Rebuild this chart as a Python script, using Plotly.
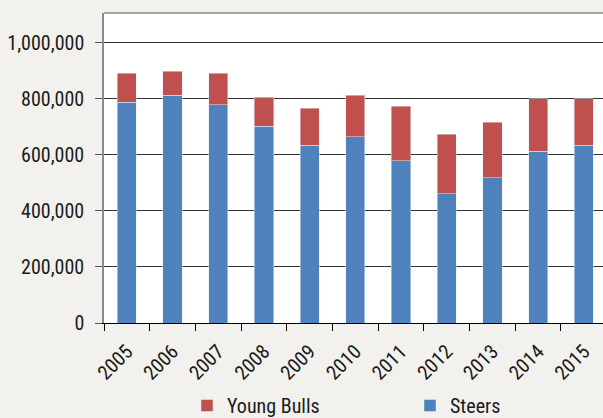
import plotly.graph_objects as go

years = ["2005", "2006", "2007", "2008", "2009", "2010", "2011", "2012", "2013", "2014", "2015"]
steers = [788000, 814000, 779000, 702000, 635000, 666000, 580000, 461000, 518000, 613000, 635000]
young_bulls = [104000, 85000, 113000, 104000, 132000, 147000, 194000, 213000, 199000, 188000, 166000]
y_ticks = [0, 200000, 400000, 600000, 800000, 1000000]
y_tick_labels = ["0", "200,000", "400,000", "600,000", "800,000", "1,000,000"]

FONT = "Liberation Sans Narrow, Arial Narrow, Roboto Condensed, sans-serif"

fig = go.Figure()
fig.add_trace(go.Bar(x=years, y=steers, name="Steers", marker_color="#4F81BD", width=0.42,
                     legend="legend2"))
fig.add_trace(go.Bar(x=years, y=young_bulls, name="Young Bulls", marker_color="#C0504D", width=0.42,
                     legend="legend"))

PW = 499.0
PH = 310.0
leg_common = dict(
    orientation="h", xanchor="left", yanchor="top",
    y=(323 - 386) / PH,
    font=dict(family=FONT, size=20, color="#1a1a1a"),
    bgcolor="rgba(0,0,0,0)",
)

fig.update_layout(
    width=603, height=418,
    margin=dict(l=104, r=0, t=13, b=95, autoexpand=False),
    barmode="stack",
    paper_bgcolor="#f2f1ed",
    plot_bgcolor="#ffffff",
    font=dict(family=FONT, size=20, color="#1a1a1a"),
    showlegend=True,
    legend=dict(x=(187 - 104) / PW, **leg_common),
    legend2=dict(x=(410 - 104) / PW, **leg_common),
    xaxis=dict(
        type="category",
        range=[-0.5, 10.42],
        tickangle=-45,
        tickson="boundaries",
        ticks="outside", ticklen=7, tickcolor="#000000",
        ticklabelstandoff=8,
        showline=True, linecolor="#000000", linewidth=1,
        showgrid=False,
        automargin=False,
    ),
    yaxis=dict(
        range=[0, 1107000],
        tickvals=y_ticks, ticktext=y_tick_labels,
        ticks="outside", ticklen=7, tickcolor="#555555",
        ticklabelstandoff=7,
        showgrid=True, gridcolor="#333333", gridwidth=1,
        zeroline=False,
        showline=True, linecolor="#8a8a8a", linewidth=1.5,
        automargin=False,
    ),
    shapes=[dict(type="line", xref="paper", yref="paper", x0=0, x1=1, y0=1, y1=1,
                 line=dict(color="#8a8a8a", width=1.5))],
)

fig.write_html("out.html")
